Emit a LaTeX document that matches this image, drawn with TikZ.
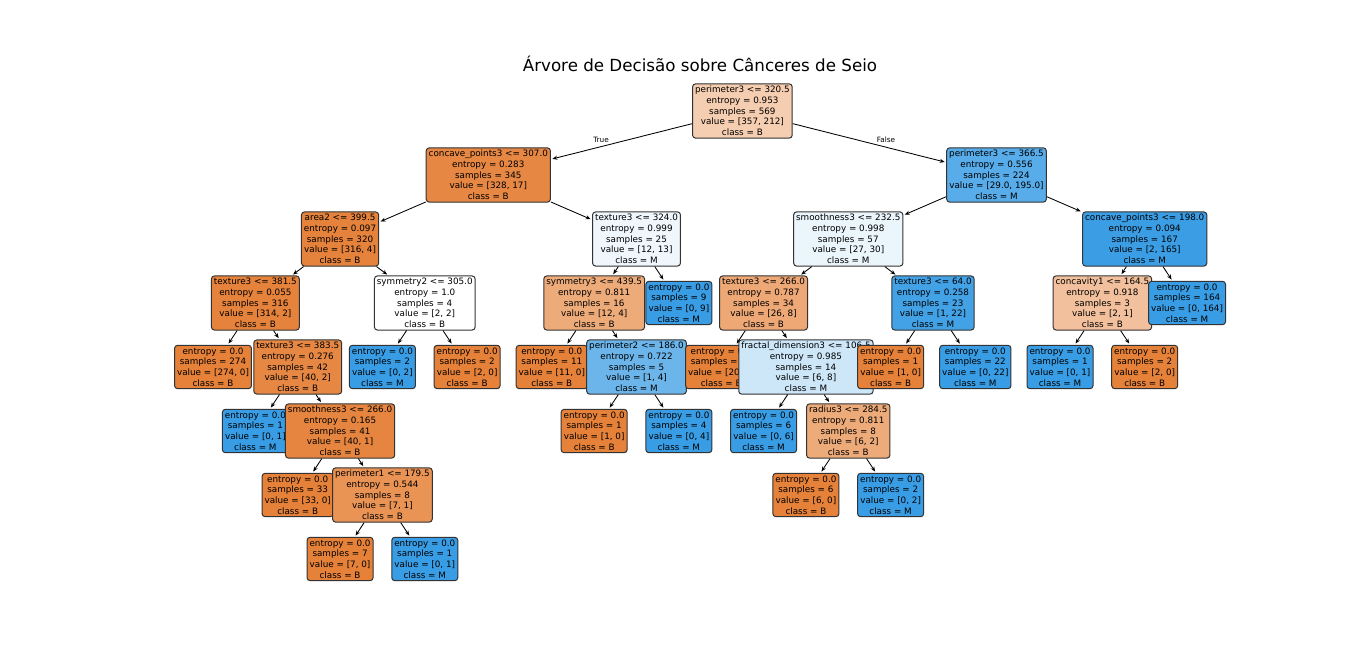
\documentclass[tikz,border=0pt]{standalone}
\usepackage{fontspec}
\setmainfont{DejaVu Sans}
\usetikzlibrary{arrows.meta}
\definecolor{clsB}{RGB}{229,129,57}
\definecolor{clsM}{RGB}{57,157,229}
\newcommand\nodefnt{\fontsize{8.8}{10.7}\selectfont}
\newcommand\tnode[5]{\node[tn, fill=#4] (#1) at ({742.4+42.35*(#2)},{111+64*(#3)}) {#5};}
\newcommand\tedge[2]{\draw[ed] (#1) -- (#2);}
\begin{document}
\begin{tikzpicture}[x=1pt,y=-1pt,
  tn/.style={draw=black!80, line width=1pt, rounded corners=3pt, align=center,
    inner xsep=2.5pt, inner ysep=2.3pt, font=\nodefnt, text=black},
  ed/.style={-{Stealth[length=5pt,width=4pt]}, line width=0.85pt, shorten >=1.5pt},
  lbl/.style={font=\fontsize{7.3}{8.5}\selectfont, inner sep=0pt}]
\useasboundingbox (0,0) rectangle (1366,663);
\fill[white] (0,0) rectangle (1366,663);
\node[font=\fontsize{16.7}{20}\selectfont, anchor=base] (title) at (700,72) {Árvore de Decisão sobre Cânceres de Seio};
% root
\tnode{n0}{0}{0}{clsB!40!white}{perimeter3 <= 320.5\\entropy = 0.953\\samples = 569\\value = [357, 212]\\class = B}
\tnode{n1}{-6}{1}{clsB!95!white}{concave\_points3 <= 307.0\\entropy = 0.283\\samples = 345\\value = [328, 17]\\class = B}
\tedge{n0}{n1}
\tnode{n2}{-9.5}{2}{clsB!99!white}{area2 <= 399.5\\entropy = 0.097\\samples = 320\\value = [316, 4]\\class = B}
\tedge{n1}{n2}
\tnode{n3}{-11.5}{3}{clsB!99!white}{texture3 <= 381.5\\entropy = 0.055\\samples = 316\\value = [314, 2]\\class = B}
\tedge{n2}{n3}
\tnode{n4}{-12.5}{4}{clsB}{entropy = 0.0\\samples = 274\\value = [274, 0]\\class = B}
\tedge{n3}{n4}
\tnode{n5}{-10.5}{4}{clsB!95!white}{texture3 <= 383.5\\entropy = 0.276\\samples = 42\\value = [40, 2]\\class = B}
\tedge{n3}{n5}
\tnode{n6}{-11.5}{5}{clsM}{entropy = 0.0\\samples = 1\\value = [0, 1]\\class = M}
\tedge{n5}{n6}
\tnode{n7}{-9.5}{5}{clsB!97!white}{smoothness3 <= 266.0\\entropy = 0.165\\samples = 41\\value = [40, 1]\\class = B}
\tedge{n5}{n7}
\tnode{n8}{-10.5}{6}{clsB}{entropy = 0.0\\samples = 33\\value = [33, 0]\\class = B}
\tedge{n7}{n8}
\tnode{n9}{-8.5}{6}{clsB!86!white}{perimeter1 <= 179.5\\entropy = 0.544\\samples = 8\\value = [7, 1]\\class = B}
\tedge{n7}{n9}
\tnode{n10}{-9.5}{7}{clsB}{entropy = 0.0\\samples = 7\\value = [7, 0]\\class = B}
\tedge{n9}{n10}
\tnode{n11}{-7.5}{7}{clsM}{entropy = 0.0\\samples = 1\\value = [0, 1]\\class = M}
\tedge{n9}{n11}
\tnode{n12}{-7.5}{3}{white}{symmetry2 <= 305.0\\entropy = 1.0\\samples = 4\\value = [2, 2]\\class = B}
\tedge{n2}{n12}
\tnode{n13}{-8.5}{4}{clsM}{entropy = 0.0\\samples = 2\\value = [0, 2]\\class = M}
\tedge{n12}{n13}
\tnode{n14}{-6.5}{4}{clsB}{entropy = 0.0\\samples = 2\\value = [2, 0]\\class = B}
\tedge{n12}{n14}
\tnode{n15}{-2.5}{2}{clsM!8!white}{texture3 <= 324.0\\entropy = 0.999\\samples = 25\\value = [12, 13]\\class = M}
\tedge{n1}{n15}
\tnode{n16}{-3.5}{3}{clsB!67!white}{symmetry3 <= 439.5\\entropy = 0.811\\samples = 16\\value = [12, 4]\\class = B}
\tedge{n15}{n16}
\tnode{n17}{-4.5}{4}{clsB}{entropy = 0.0\\samples = 11\\value = [11, 0]\\class = B}
\tedge{n16}{n17}
\tnode{n18}{-2.5}{4}{clsM!75!white}{perimeter2 <= 186.0\\entropy = 0.722\\samples = 5\\value = [1, 4]\\class = M}
\tedge{n16}{n18}
\tnode{n19}{-3.5}{5}{clsB}{entropy = 0.0\\samples = 1\\value = [1, 0]\\class = B}
\tedge{n18}{n19}
\tnode{n20}{-1.5}{5}{clsM}{entropy = 0.0\\samples = 4\\value = [0, 4]\\class = M}
\tedge{n18}{n20}
\tnode{n21}{-1.5}{3}{clsM}{entropy = 0.0\\samples = 9\\value = [0, 9]\\class = M}
\tedge{n15}{n21}
\tnode{n22}{6}{1}{clsM!85!white}{perimeter3 <= 366.5\\entropy = 0.556\\samples = 224\\value = [29.0, 195.0]\\class = M}
\tedge{n0}{n22}
\tnode{n23}{2.5}{2}{clsM!10!white}{smoothness3 <= 232.5\\entropy = 0.998\\samples = 57\\value = [27, 30]\\class = M}
\tedge{n22}{n23}
\tnode{n24}{0.5}{3}{clsB!69!white}{texture3 <= 266.0\\entropy = 0.787\\samples = 34\\value = [26, 8]\\class = B}
\tedge{n23}{n24}
\tnode{n25}{-0.5}{4}{clsB}{entropy = 0.0\\samples = 20\\value = [20, 0]\\class = B}
\tedge{n24}{n25}
\tnode{n26}{1.5}{4}{clsM!25!white}{fractal\_dimension3 <= 106.5\\entropy = 0.985\\samples = 14\\value = [6, 8]\\class = M}
\tedge{n24}{n26}
\tnode{n27}{0.5}{5}{clsM}{entropy = 0.0\\samples = 6\\value = [0, 6]\\class = M}
\tedge{n26}{n27}
\tnode{n28}{2.5}{5}{clsB!67!white}{radius3 <= 284.5\\entropy = 0.811\\samples = 8\\value = [6, 2]\\class = B}
\tedge{n26}{n28}
\tnode{n29}{1.5}{6}{clsB}{entropy = 0.0\\samples = 6\\value = [6, 0]\\class = B}
\tedge{n28}{n29}
\tnode{n30}{3.5}{6}{clsM}{entropy = 0.0\\samples = 2\\value = [0, 2]\\class = M}
\tedge{n28}{n30}
\tnode{n31}{4.5}{3}{clsM!95!white}{texture3 <= 64.0\\entropy = 0.258\\samples = 23\\value = [1, 22]\\class = M}
\tedge{n23}{n31}
\tnode{n32}{3.5}{4}{clsB}{entropy = 0.0\\samples = 1\\value = [1, 0]\\class = B}
\tedge{n31}{n32}
\tnode{n33}{5.5}{4}{clsM}{entropy = 0.0\\samples = 22\\value = [0, 22]\\class = M}
\tedge{n31}{n33}
\tnode{n34}{9.5}{2}{clsM!99!white}{concave\_points3 <= 198.0\\entropy = 0.094\\samples = 167\\value = [2, 165]\\class = M}
\tedge{n22}{n34}
\tnode{n35}{8.5}{3}{clsB!50!white}{concavity1 <= 164.5\\entropy = 0.918\\samples = 3\\value = [2, 1]\\class = B}
\tedge{n34}{n35}
\tnode{n36}{7.5}{4}{clsM}{entropy = 0.0\\samples = 1\\value = [0, 1]\\class = M}
\tedge{n35}{n36}
\tnode{n37}{9.5}{4}{clsB}{entropy = 0.0\\samples = 2\\value = [2, 0]\\class = B}
\tedge{n35}{n37}
\tnode{n38}{10.5}{3}{clsM}{entropy = 0.0\\samples = 164\\value = [0, 164]\\class = M}
\tedge{n34}{n38}
\node[lbl] (ltrue) at (601,140) {True};
\node[lbl] (lfalse) at (886,140) {False};
\end{tikzpicture}
\end{document}
